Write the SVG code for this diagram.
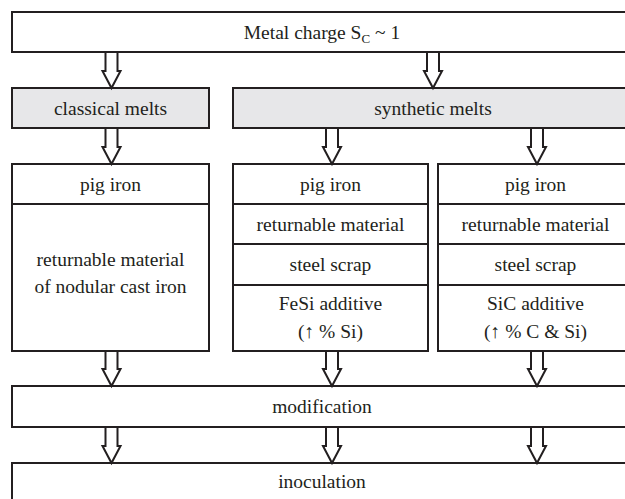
<svg xmlns="http://www.w3.org/2000/svg" width="625" height="499" viewBox="0 0 625 499">
<style>
.b{fill:#fff;stroke:#231f20;stroke-width:2}
.g{fill:#e7e7e9;stroke:#231f20;stroke-width:2}
.d{stroke:#231f20;stroke-width:2;fill:none}
.t{font-family:'Liberation Serif','DejaVu Serif',serif;font-size:19.5px;fill:#231f20;text-anchor:middle}
.a{fill:#fff;stroke:#231f20;stroke-width:2;stroke-linejoin:miter}
</style>
<g id="charge"><rect class="b" x="12" y="12" width="621" height="40"/><text class="t" x="322" y="39">Metal charge S<tspan font-size="13" dy="4">C</tspan><tspan dy="-4"> ~ 1</tspan></text></g>
<g id="classical"><rect class="g" x="12" y="88" width="197" height="40"/><text class="t" x="110.5" y="114.5">classical melts</text></g>
<g id="synthetic"><rect class="g" x="233" y="88" width="400" height="40"/><text class="t" x="433" y="114.5">synthetic melts</text></g>
<g id="col1"><rect class="b" x="12" y="164" width="197" height="187"/><line class="d" x1="12" y1="204" x2="209" y2="204"/>
<text class="t" x="110.5" y="191">pig iron</text>
<text class="t" x="110.5" y="266">returnable material</text>
<text class="t" x="110.5" y="293">of nodular cast iron</text></g>
<g id="col2"><rect class="b" x="233" y="164" width="195" height="187"/>
<line class="d" x1="233" y1="204" x2="428" y2="204"/><line class="d" x1="233" y1="244" x2="428" y2="244"/><line class="d" x1="233" y1="285" x2="428" y2="285"/>
<text class="t" x="330.5" y="191">pig iron</text>
<text class="t" x="330.5" y="231">returnable material</text>
<text class="t" x="330.5" y="271">steel scrap</text>
<text class="t" x="330.5" y="310">FeSi additive</text>
<text class="t" x="330.5" y="338">(↑ % Si)</text></g>
<g id="col3"><rect class="b" x="438" y="164" width="195" height="187"/>
<line class="d" x1="438" y1="204" x2="633" y2="204"/><line class="d" x1="438" y1="244" x2="633" y2="244"/><line class="d" x1="438" y1="285" x2="633" y2="285"/>
<text class="t" x="535.5" y="191">pig iron</text>
<text class="t" x="535.5" y="231">returnable material</text>
<text class="t" x="535.5" y="271">steel scrap</text>
<text class="t" x="535.5" y="310">SiC additive</text>
<text class="t" x="535.5" y="338">(↑ % C &amp; Si)</text></g>
<g id="modification"><rect class="b" x="12" y="386" width="621" height="41"/><text class="t" x="322" y="413">modification</text></g>
<g id="inoculation"><rect class="b" x="12" y="463" width="621" height="50"/><text class="t" x="322" y="488">inoculation</text></g>
<g id="connectors">
<path class="a" d="M105.5 53V71H102.5L111.5 88L120.5 71H117.5V53"/>
<path class="a" d="M427 53V71H424L433 88L442 71H439V53"/>
<path class="a" d="M105.5 129V147H102.5L111.5 164L120.5 147H117.5V129"/>
<path class="a" d="M326 129V147H323L332 164L341 147H338V129"/>
<path class="a" d="M531 129V147H528L537 164L546 147H543V129"/>
<path class="a" d="M105.5 352V369H102.5L111.5 386L120.5 369H117.5V352"/>
<path class="a" d="M326 352V369H323L332 386L341 369H338V352"/>
<path class="a" d="M531 352V369H528L537 386L546 369H543V352"/>
<path class="a" d="M105.5 428V446H102.5L111.5 463L120.5 446H117.5V428"/>
<path class="a" d="M326 428V446H323L332 463L341 446H338V428"/>
<path class="a" d="M531 428V446H528L537 463L546 446H543V428"/>
</g>
</svg>
